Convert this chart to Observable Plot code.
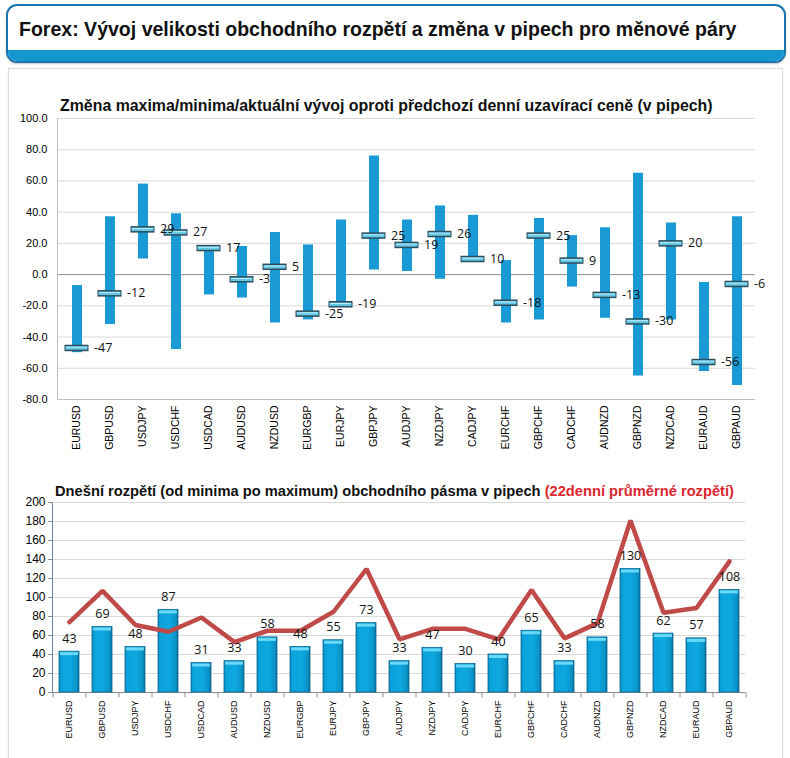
<!DOCTYPE html>
<html>
<head>
<meta charset="utf-8">
<script src="https://cdn.jsdelivr.net/npm/d3@7"></script>
<script src="https://cdn.jsdelivr.net/npm/@observablehq/plot@0.6"></script>
<style>
  html, body { margin: 0; padding: 0; background: #fff; overflow: hidden; }
  body { width: 790px; height: 758px; position: relative; font-family: "Liberation Sans", Arial, sans-serif; }
  #header { position: absolute; left: 6px; top: 4px; width: 776px; height: 55px; border: 2px solid #1a76b0; border-radius: 11px; overflow: hidden; background: #fff; box-shadow: 0 1px 2px rgba(0,0,0,0.25); }
  #header .band { position: absolute; left: 0; right: 0; bottom: 0; height: 11px; background: #1496d0; }
  #header .t { position: absolute; left: 11px; top: 11px; font-weight: bold; font-size: 21px; color: #111; white-space: nowrap; transform-origin: left top; transform: scaleX(0.93); }
  #panel { position: absolute; left: 8px; top: 68px; width: 773px; height: 700px; border: 1px solid #dcdcdc; box-shadow: 0 0 2px rgba(0,0,0,0.08); background: #fff; }
  .ct { position: absolute; font-weight: bold; white-space: nowrap; color: #111; }
  #c1, #c2 { position: absolute; left: 0; }
  #c1 { top: 95px; }
  #c2 { top: 480px; }
</style>
</head>
<body>
<div id="header"><div class="t">Forex: Vývoj velikosti obchodního rozpětí a změna v pipech pro měnové páry</div><div class="band"></div></div>
<div id="panel"></div>
<div class="ct" id="t1" style="left:60px; top:97px; font-size:15.9px;">Změna maxima/minima/aktuální vývoj oproti předchozí denní uzavírací ceně (v pipech)</div>
<div class="ct" id="t2" style="left:55px; top:483px; font-size:14.7px;">Dnešní rozpětí (od minima po maximum) obchodního pásma v pipech <span style="color:#d9262f">(22denní průměrné rozpětí)</span></div>
<div id="c1"></div>
<div id="c2"></div>
<script>
const pairs = ["EURUSD","GBPUSD","USDJPY","USDCHF","USDCAD","AUDUSD","NZDUSD","EURGBP","EURJPY","GBPJPY","AUDJPY","NZDJPY","CADJPY","EURCHF","GBPCHF","CADCHF","AUDNZD","GBPNZD","NZDCAD","EURAUD","GBPAUD"];
const highs   = [-7, 37, 58, 39, 18, 18, 27, 19, 35, 76, 35, 44, 38, 9, 36, 25, 30, 65, 33, -5, 37];
const lows    = [-50, -32, 10, -48, -13, -15, -31, -29, -20, 3, 2, -3, 8, -31, -29, -8, -28, -65, -29, -62, -71];
const current = [-47, -12, 29, 27, 17, -3, 5, -25, -19, 25, 19, 26, 10, -18, 25, 9, -13, -30, 20, -56, -6];
const ranges  = [43, 69, 48, 87, 31, 33, 58, 48, 55, 73, 33, 47, 30, 40, 65, 33, 58, 130, 62, 57, 108];
const avg22   = [74, 107, 71, 64, 79, 53, 65, 65, 85, 130, 56, 67, 67, 56, 108, 57, 73, 181, 84, 89, 138];
const yTicks1 = [-80, -60, -40, -20, 0, 20, 40, 60, 80, 100];
const yTicks2 = [0, 20, 40, 60, 80, 100, 120, 140, 160, 180, 200];

const rows = pairs.map((p, i) => ({pair: p, hi: highs[i], lo: lows[i], cur: current[i], range: ranges[i], avg: avg22[i]}));

// ---------- Top chart ----------
const W = 790;
const c1 = Plot.plot({
  width: W, height: 380,
  marginTop: 23, marginBottom: 76, marginLeft: 57, marginRight: 35,
  style: {fontFamily: "Liberation Sans, Arial, sans-serif", background: "transparent", overflow: "visible"},
  x: {domain: pairs, padding: 0, label: null},
  y: {domain: [-80, 100], label: null},
  marks: [
    Plot.ruleY(yTicks1.filter(d => d !== 0 && d !== -80), {stroke: "#d9d9d9", strokeWidth: 1}),
    Plot.ruleY([-80], {stroke: "#bfbfbf"}),
    Plot.ruleY([0], {stroke: "#8c8c8c", strokeWidth: 1}),
    Plot.frame({anchor: "left", stroke: "#bfbfbf"}),
    Plot.axisY({ticks: yTicks1, tickFormat: d => d.toFixed(1), tickSize: 0, tickPadding: 10, fontSize: 11, label: null}),
    Plot.axisX({tickRotate: -90, tickSize: 0, tickPadding: 6, fontSize: 10.5, label: null}),
    Plot.ruleX(rows, {x: "pair", y1: "lo", y2: "hi", stroke: "#1a9ad4", strokeWidth: 10}),
    Plot.tickY(rows, {x: "pair", y: "cur", stroke: "#2c4d5c", strokeWidth: 6.5, insetLeft: 4.5, insetRight: 4.5}),
    Plot.tickY(rows, {x: "pair", y: "cur", stroke: "#62c6e6", strokeWidth: 3.5, insetLeft: 5.5, insetRight: 5.5}),
    Plot.tickY(rows, {x: "pair", y: "cur", stroke: "#b8ecfa", strokeWidth: 1, dy: -0.8, insetLeft: 6, insetRight: 6}),
    Plot.text(rows, {x: "pair", y: "cur", text: d => String(d.cur), textAnchor: "start", dx: 17, fontSize: 12.5, fill: "#111", fontFamily: "Open Sans, Liberation Sans, sans-serif"})
  ]
});
document.getElementById("c1").appendChild(c1);

// ---------- Bottom chart ----------
const step2 = (790 - 52 - 45) / pairs.length;
const c2 = Plot.plot({
  width: W, height: 275,
  marginTop: 22, marginBottom: 63, marginLeft: 52, marginRight: 45,
  style: {fontFamily: "Liberation Sans, Arial, sans-serif", background: "transparent", overflow: "visible"},
  x: {domain: pairs, paddingInner: 0.4, paddingOuter: 0.2, label: null},
  y: {domain: [0, 200], label: null},
  marks: [
    Plot.ruleY(yTicks2.filter(d => d > 0), {stroke: "#d9d9d9", strokeWidth: 1}),
    Plot.axisY({ticks: yTicks2, tickSize: 4, tickPadding: 3, fontSize: 12, label: null, stroke: "#7d8ea8"}),
    Plot.frame({anchor: "left", stroke: "#6f86a6"}),
    Plot.ruleY([0], {stroke: "#8c8c8c"}),
    Plot.ruleX(pairs, {x: d => d, y1: 0, y2: -5.5, dx: -step2 / 2, stroke: "#8c8c8c"}),
    Plot.ruleX([pairs[pairs.length - 1]], {x: d => d, y1: 0, y2: -5.5, dx: step2 / 2, stroke: "#8c8c8c"}),
    Plot.axisX({tickRotate: -90, tickSize: 0, tickPadding: 8, fontSize: 9, label: null}),
    Plot.barY(rows, {x: "pair", y: "range", fill: "url(#barGrad)", stroke: "#0b6a93", strokeWidth: 0.8}),
    Plot.tickY(rows, {x: "pair", y: "range", stroke: "#6ad8f7", strokeWidth: 3, dy: 2, insetLeft: 1, insetRight: 1}),
    Plot.line(rows, {x: "pair", y: "avg", stroke: "#bf4a47", strokeWidth: 4.5, strokeLinejoin: "miter"}),
    Plot.text(rows, {x: "pair", y: "range", text: d => String(d.range), dy: -13, fontSize: 12.5, fill: "#111", fontFamily: "Open Sans, Liberation Sans, sans-serif"})
  ]
});
// gradient for cylinder-like bars
const svg2 = d3.select(c2.tagName.toLowerCase() === "svg" ? c2 : c2.querySelector("svg"));
const defs = svg2.insert("defs", ":first-child");
const g = defs.append("linearGradient").attr("id", "barGrad").attr("x1", "0").attr("x2", "1").attr("y1", "0").attr("y2", "0");
[["0%", "#0a88bb"], ["12%", "#0ca3dc"], ["55%", "#0ea8e0"], ["88%", "#0a95c9"], ["100%", "#0a6a94"]].forEach(([o, c]) => g.append("stop").attr("offset", o).attr("stop-color", c));
document.getElementById("c2").appendChild(c2);
</script>
</body>
</html>
